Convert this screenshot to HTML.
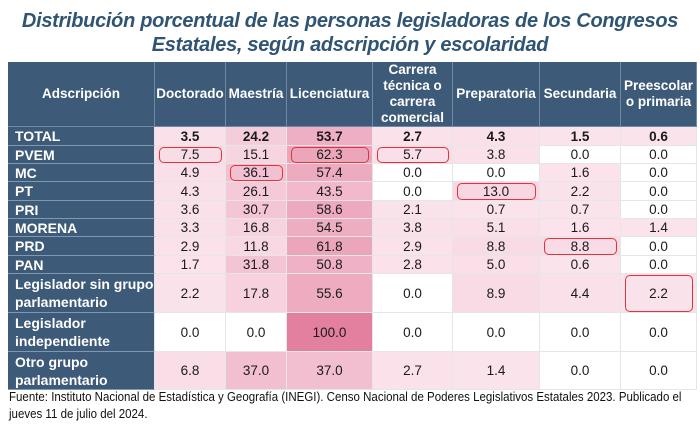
<!DOCTYPE html>
<html><head><meta charset="utf-8"><style>
body{margin:0;width:700px;height:433px;background:#fff;position:relative;overflow:hidden;font-family:"Liberation Sans",Arial,sans-serif}
.t{position:absolute;left:0;width:700px;text-align:center;font-style:italic;font-weight:bold;color:#2f5474;font-size:20px;letter-spacing:-0.3px}
.c{position:absolute;box-sizing:border-box;display:flex;align-items:center;justify-content:center;text-align:center;font-size:13.5px;color:#1a1a1a;border-right:1px solid #e6e6e6;border-bottom:1px solid #e6e6e6}
.h{background:#3d5a78;color:#fff;font-weight:bold;border-right:1px solid #6f8aa6;border-bottom:1px solid #6f8aa6;line-height:16px;font-size:13.5px}
.l{background:#3d5a78;color:#fff;font-weight:bold;justify-content:flex-start;text-align:left;padding-left:7px;border-bottom:1px solid #7f98b2;line-height:18px;font-size:14px}
.r{position:absolute;box-sizing:border-box;border:1.5px solid #e8303c;border-radius:5px}
.f{position:absolute;left:9px;font-size:12.5px;color:#111;line-height:16px;transform:scaleX(0.92);transform-origin:left;white-space:nowrap}
</style></head><body>
<div class="t" style="top:10px">Distribución porcentual de las personas legisladoras de los Congresos</div>
<div class="t" style="top:34px">Estatales, según adscripción y escolaridad</div>
<div id="g"></div>
<div class="f" style="top:389px">Fuente: Instituto Nacional de Estadística y Geografía (INEGI). Censo Nacional de Poderes Legislativos Estatales 2023. Publicado el</div>
<div class="f" style="top:406px">jueves 11 de julio del 2024.</div>
<script>
var xs=[8,155,226,287,373,453,540,621,697];
var ys=[62,127,146,164,182,201,219,237,256,274,313,352,390];
var hd=["Adscripción","Doctorado","Maestría","Licenciatura","Carrera<br>técnica o<br>carrera<br>comercial","Preparatoria","Secundaria","Preescolar<br>o primaria"];
var rows=[["TOTAL",3.5,24.2,53.7,2.7,4.3,1.5,0.6],["PVEM",7.5,15.1,62.3,5.7,3.8,0.0,0.0],["MC",4.9,36.1,57.4,0.0,0.0,1.6,0.0],["PT",4.3,26.1,43.5,0.0,13.0,2.2,0.0],["PRI",3.6,30.7,58.6,2.1,0.7,0.7,0.0],["MORENA",3.3,16.8,54.5,3.8,5.1,1.6,1.4],["PRD",2.9,11.8,61.8,2.9,8.8,8.8,0.0],["PAN",1.7,31.8,50.8,2.8,5.0,0.6,0.0],["Legislador sin grupo<br>parlamentario",2.2,17.8,55.6,0.0,8.9,4.4,2.2],["Legislador<br>independiente",0.0,0.0,100.0,0.0,0.0,0.0,0.0],["Otro grupo<br>parlamentario",6.8,37.0,37.0,2.7,1.4,0.0,0.0]];
var hl=[[1,1],[1,3],[1,4],[2,2],[3,5],[6,6],[8,7]];
var h="";
function box(x,y,w,hh){return "left:"+x+"px;top:"+y+"px;width:"+w+"px;height:"+hh+"px;";}
for(var j=0;j<8;j++)h+='<div class="c h" style="'+box(xs[j],ys[0],xs[j+1]-xs[j],ys[1]-ys[0])+'">'+hd[j]+'</div>';
function col(v){if(v<0.05)return "#ffffff";var t=Math.min(1,v/100);var a=[251,228,236],b=[227,128,159];return "rgb("+a.map(function(x,i){return Math.round(x+(b[i]-x)*t)}).join(",")+")";}
for(var i=0;i<rows.length;i++){var y=ys[i+1],hh=ys[i+2]-y;
h+='<div class="c l" style="'+box(xs[0],y,xs[1]-xs[0],hh)+'">'+rows[i][0]+'</div>';
for(var j=1;j<8;j++){var v=rows[i][j];h+='<div class="c" style="'+box(xs[j],y,xs[j+1]-xs[j],hh)+'background:'+col(v)+';'+(i==0?'font-weight:bold;':'')+'">'+v.toFixed(1)+'</div>';}}
hl.forEach(function(p){var r=p[0],c=p[1];h+='<div class="r" style="'+box(xs[c]+4,ys[r+1]+1,xs[c+1]-xs[c]-8,ys[r+2]-ys[r+1]-2)+'"></div>';});
document.getElementById("g").innerHTML=h;
</script>
</body></html>
